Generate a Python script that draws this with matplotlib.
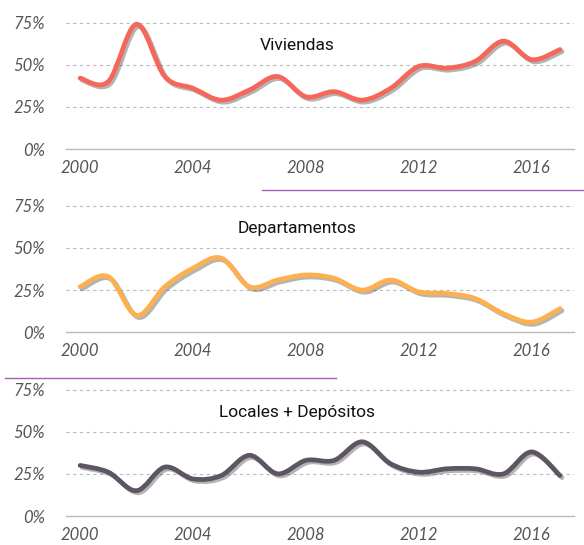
import numpy as np
import matplotlib
matplotlib.use('Agg')
import matplotlib.pyplot as plt
from matplotlib.path import Path
from matplotlib.patches import PathPatch
import matplotlib.patheffects as pe

# data (share of total, %)
years = list(range(2000, 2018))
viviendas = [42, 40, 74, 43, 36, 29, 35, 43, 31, 34, 29, 36, 49, 48, 52, 64, 53, 59]
departamentos = [27, 33, 10, 27, 38, 44, 27, 31, 34, 32, 25, 31, 24, 23, 20, 11, 6, 14]
locales = [30, 26, 15, 29, 22, 24, 36, 25, 33, 33, 44, 31, 26, 28, 28, 25, 38, 24]

titles = ['Viviendas', 'Departamentos', 'Locales + Depósitos']
colors = ['#f4675a', '#fdb050', '#5d5563']
yticks = [0, 25, 50, 75]
xticks = [2000, 2004, 2008, 2012, 2016]


def smooth_path(xs, ys):
    # catmull-rom style bezier through the points
    xs = np.asarray(xs, float)
    ys = np.asarray(ys, float)
    pts = np.column_stack([xs, ys])
    verts = [pts[0]]
    codes = [Path.MOVETO]
    n = len(pts)
    for i in range(n - 1):
        p0 = pts[i - 1] if i > 0 else pts[i]
        p1 = pts[i]
        p2 = pts[i + 1]
        p3 = pts[i + 2] if i + 2 < n else pts[i + 1]
        c1 = p1 + (p2 - p0) / 6.0
        c2 = p2 - (p3 - p1) / 6.0
        verts += [c1, c2, p2]
        codes += [Path.CURVE4] * 3
    return Path(verts, codes)


fig = plt.figure(figsize=(5.84, 5.45), dpi=100)
bottoms = [0.7266, 0.3903, 0.0532]
series = [viviendas, departamentos, locales]

for b, vals, title, col in zip(bottoms, series, titles, colors):
    ax = fig.add_axes([0.113, b, 0.870, 0.2475])
    ax.set_xlim(1999.5, 2017.5)
    ax.set_ylim(0, 80)
    for s in ['top', 'right', 'left']:
        ax.spines[s].set_visible(False)
    ax.spines['bottom'].set_color('#bbbbbb')
    ax.spines['bottom'].set_linewidth(1)
    ax.yaxis.grid(True, color='#bbbbbb', linestyle=(0, (3, 3)), linewidth=0.8)
    ax.set_yticks(yticks)
    ax.set_yticklabels([f'{v}%' for v in yticks])
    ax.set_xticks(xticks)
    ax.set_xticklabels([str(v) for v in xticks])
    ax.tick_params(length=0, pad=8, labelsize=12, labelcolor='#555555')
    ax.tick_params(axis='y', pad=15)
    for lab in ax.get_xticklabels() + ax.get_yticklabels():
        lab.set_fontstyle('italic')
        lab.set_family('Lato')
    ax.get_ygridlines()[0].set_visible(False)

    patch = PathPatch(smooth_path(years, vals), facecolor='none', edgecolor=col,
                      linewidth=3.4, capstyle='round', joinstyle='round', zorder=3)
    patch.set_path_effects([pe.SimpleLineShadow(offset=(1.5, -1.5), shadow_color='#444444', alpha=0.4),
                            pe.Normal()])
    ax.add_patch(patch)
    ax.text(2007.7, 61.5, title, ha='center', va='center', fontsize=12.5,
            family='Roboto', color='#111111')

# separators
fig.add_artist(plt.Line2D([262 / 584, 1.0], [1 - 190 / 545] * 2, color='#a35fb5', lw=1))
fig.add_artist(plt.Line2D([5 / 584, 336 / 584], [1 - 378 / 545] * 2, color='#a35fb5', lw=1))

fig.savefig('out.png', dpi=100)
